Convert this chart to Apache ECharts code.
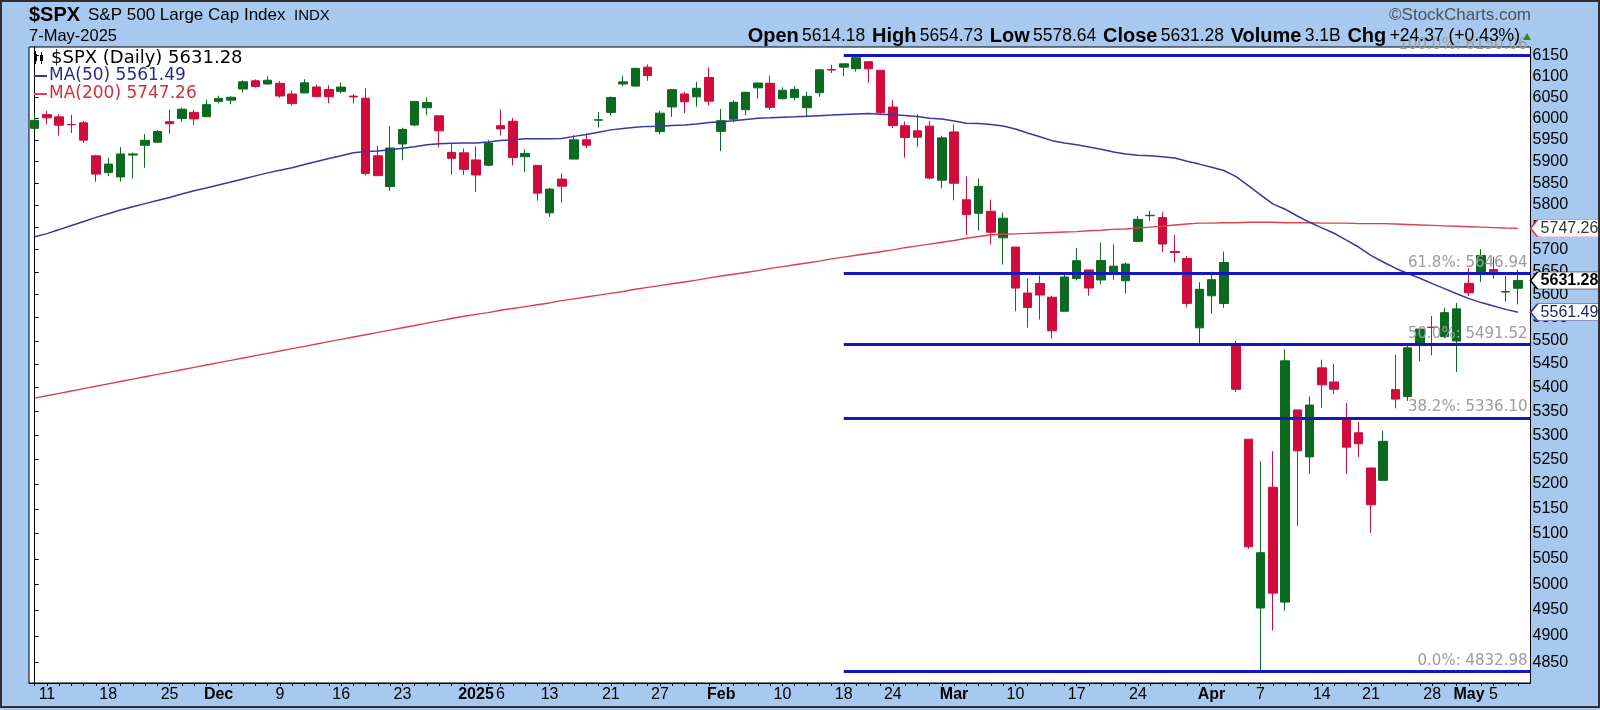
<!DOCTYPE html>
<html>
<head>
<meta charset="utf-8">
<title>$SPX S&amp;P 500 Large Cap Index</title>
<script src="https://cdn.jsdelivr.net/npm/echarts@6.0.0/dist/echarts.min.js"></script>
<style>
html, body { margin: 0; padding: 0; background: #a7c9f0; }
#chart { width: 1600px; height: 710px; }
</style>
</head>
<body>
<div id="chart"></div>
<script>
// Daily bars, 8-Nov-2024 .. 7-May-2025
const days = [
  '2024-11-08','2024-11-11','2024-11-12','2024-11-13','2024-11-14','2024-11-15','2024-11-18','2024-11-19','2024-11-20','2024-11-21',
  '2024-11-22','2024-11-25','2024-11-26','2024-11-27','2024-11-29','2024-12-02','2024-12-03','2024-12-04','2024-12-05','2024-12-06',
  '2024-12-09','2024-12-10','2024-12-11','2024-12-12','2024-12-13','2024-12-16','2024-12-17','2024-12-18','2024-12-19','2024-12-20',
  '2024-12-23','2024-12-24','2024-12-26','2024-12-27','2024-12-30','2024-12-31','2025-01-02','2025-01-03','2025-01-06','2025-01-07',
  '2025-01-08','2025-01-10','2025-01-13','2025-01-14','2025-01-15','2025-01-16','2025-01-17','2025-01-21','2025-01-22','2025-01-23',
  '2025-01-24','2025-01-27','2025-01-28','2025-01-29','2025-01-30','2025-01-31','2025-02-03','2025-02-04','2025-02-05','2025-02-06',
  '2025-02-07','2025-02-10','2025-02-11','2025-02-12','2025-02-13','2025-02-14','2025-02-18','2025-02-19','2025-02-20','2025-02-21',
  '2025-02-24','2025-02-25','2025-02-26','2025-02-27','2025-02-28','2025-03-03','2025-03-04','2025-03-05','2025-03-06','2025-03-07',
  '2025-03-10','2025-03-11','2025-03-12','2025-03-13','2025-03-14','2025-03-17','2025-03-18','2025-03-19','2025-03-20','2025-03-21',
  '2025-03-24','2025-03-25','2025-03-26','2025-03-27','2025-03-28','2025-03-31','2025-04-01','2025-04-02','2025-04-03','2025-04-04',
  '2025-04-07','2025-04-08','2025-04-09','2025-04-10','2025-04-11','2025-04-14','2025-04-15','2025-04-16','2025-04-17','2025-04-21',
  '2025-04-22','2025-04-23','2025-04-24','2025-04-25','2025-04-28','2025-04-29','2025-04-30','2025-05-01','2025-05-02','2025-05-05',
  '2025-05-06','2025-05-07'
];

const opens = [
  5976.76, 6008.86, 6003.60, 5985.75, 5989.68, 5912.79, 5874.17, 5864.14, 5914.50, 5937.20,
  5944.36, 5992.28, 6000.03, 6014.11, 6003.98, 6040.11, 6042.97, 6069.39, 6089.03, 6081.38,
  6083.01, 6057.59, 6060.15, 6074.29, 6068.17, 6063.79, 6052.55, 6047.65, 5912.71, 5842.00,
  5940.25, 5984.63, 6024.97, 6006.17, 5920.67, 5919.74, 5903.26, 5891.07, 5982.81, 5993.26,
  5910.66, 5890.66, 5782.26, 5859.17, 5905.19, 5950.00, 5995.86, 6014.12, 6081.39, 6076.32,
  6121.43, 5969.04, 6026.97, 6057.70, 6050.75, 6096.79, 5969.65, 5998.14, 6020.45, 6072.22,
  6083.13, 6046.40, 6049.32, 6025.08, 6060.59, 6115.52, 6121.60, 6117.76, 6134.50, 6114.10,
  6026.69, 5982.73, 5970.87, 5981.88, 5856.74, 5968.33, 5811.98, 5781.37, 5785.87, 5726.01,
  5705.37, 5603.65, 5624.84, 5594.45, 5563.85, 5635.60, 5654.53, 5632.37, 5646.92, 5630.73,
  5718.08, 5775.86, 5771.66, 5695.64, 5679.97, 5527.91, 5597.53, 5580.76, 5492.74, 5292.14,
  4953.79, 5193.57, 4965.28, 5353.15, 5255.56, 5441.96, 5411.99, 5335.75, 5305.45, 5232.94,
  5207.67, 5395.92, 5381.38, 5489.73, 5529.22, 5508.87, 5499.44, 5625.14, 5645.65, 5655.32,
  5605.88, 5614.18
];

const highs = [
  6012.45, 6017.31, 6009.92, 6008.19, 5993.88, 5915.22, 5908.12, 5932.73, 5920.67, 5963.44,
  5972.90, 6020.75, 6025.42, 6020.16, 6044.17, 6053.58, 6052.07, 6089.84, 6092.39, 6099.97,
  6088.51, 6065.40, 6092.59, 6079.68, 6078.58, 6085.19, 6057.68, 6070.67, 5935.52, 5982.06,
  5978.25, 6040.10, 6049.75, 6006.17, 5940.79, 5929.74, 5935.09, 5949.34, 6021.04, 6000.68,
  5927.89, 5890.66, 5838.81, 5871.92, 5960.61, 5964.69, 6014.96, 6051.51, 6100.81, 6118.73,
  6128.18, 6017.17, 6069.05, 6062.83, 6086.64, 6120.91, 6022.13, 6042.48, 6062.86, 6084.03,
  6101.28, 6073.38, 6076.28, 6063.00, 6116.91, 6127.47, 6129.63, 6150.06, 6134.50, 6114.82,
  6043.65, 5992.65, 6009.82, 5993.69, 5959.40, 5986.09, 5865.08, 5860.59, 5812.08, 5783.01,
  5705.37, 5636.30, 5642.19, 5597.78, 5645.27, 5703.52, 5654.53, 5715.33, 5711.15, 5670.84,
  5775.14, 5786.95, 5783.62, 5732.28, 5685.89, 5627.56, 5650.57, 5695.31, 5499.53, 5292.14,
  5246.57, 5267.47, 5481.34, 5353.15, 5381.46, 5459.46, 5450.41, 5367.24, 5328.31, 5232.94,
  5309.60, 5469.69, 5489.40, 5528.11, 5553.66, 5571.95, 5581.84, 5658.91, 5700.70, 5683.96,
  5641.00, 5654.73
];

const lows = [
  5976.76, 5986.69, 5960.08, 5965.91, 5942.28, 5853.01, 5865.95, 5853.52, 5860.55, 5885.10,
  5944.36, 5963.91, 5992.27, 5984.87, 6003.98, 6035.33, 6033.39, 6061.06, 6072.66, 6079.98,
  6048.63, 6029.89, 6060.15, 6051.25, 6035.77, 6059.14, 6035.19, 5867.79, 5866.07, 5832.30,
  5902.57, 5981.44, 6007.37, 5932.95, 5869.16, 5868.86, 5829.53, 5888.66, 5960.01, 5890.68,
  5874.78, 5809.87, 5773.31, 5805.45, 5905.19, 5930.50, 5978.44, 6006.88, 6076.13, 6074.67,
  6088.74, 5962.92, 6003.74, 6012.96, 6027.46, 6030.93, 5923.93, 5990.87, 6007.06, 6046.83,
  6019.96, 6044.84, 6042.34, 6003.00, 6051.01, 6107.62, 6099.51, 6111.15, 6084.59, 6008.56,
  5977.43, 5908.49, 5932.69, 5858.78, 5837.66, 5810.91, 5732.59, 5742.35, 5711.64, 5666.29,
  5564.02, 5528.41, 5546.09, 5504.65, 5563.85, 5631.12, 5597.76, 5622.20, 5632.84, 5603.10,
  5718.08, 5764.38, 5694.41, 5670.94, 5572.42, 5488.73, 5558.52, 5571.48, 5390.83, 5069.90,
  4832.98, 4910.42, 4948.43, 5115.27, 5220.77, 5358.02, 5386.44, 5220.79, 5255.58, 5101.63,
  5207.67, 5356.21, 5371.96, 5455.86, 5468.64, 5505.70, 5433.24, 5597.35, 5628.05, 5635.29,
  5585.00, 5578.64
];

const closes = [
  5995.54, 6001.35, 5983.99, 5985.38, 5949.17, 5870.62, 5893.62, 5916.98, 5917.11, 5948.71,
  5969.34, 5987.37, 6021.63, 5998.74, 6032.38, 6047.15, 6049.88, 6086.49, 6075.11, 6090.27,
  6052.85, 6034.91, 6084.19, 6051.25, 6051.09, 6074.08, 6050.61, 5872.16, 5867.08, 5930.85,
  5974.07, 6040.04, 6037.59, 5970.84, 5906.94, 5881.63, 5868.55, 5942.47, 5975.38, 5909.03,
  5918.25, 5827.04, 5836.22, 5842.91, 5949.91, 5937.34, 5996.66, 6049.24, 6086.37, 6118.71,
  6101.24, 6012.28, 6067.70, 6039.31, 6071.17, 6040.53, 5994.57, 6037.88, 6061.48, 6083.57,
  6025.99, 6066.44, 6068.50, 6051.97, 6115.07, 6114.63, 6129.58, 6144.15, 6117.52, 6013.13,
  5983.25, 5955.25, 5956.06, 5861.57, 5954.50, 5849.72, 5778.15, 5842.63, 5738.52, 5770.20,
  5614.56, 5572.07, 5599.30, 5521.52, 5638.94, 5675.12, 5614.66, 5675.29, 5662.89, 5667.56,
  5767.57, 5776.65, 5712.20, 5693.31, 5580.94, 5611.85, 5633.07, 5670.97, 5396.52, 5074.08,
  5062.25, 4982.77, 5456.90, 5268.05, 5363.36, 5405.97, 5396.63, 5275.70, 5282.70, 5158.20,
  5287.76, 5375.86, 5484.77, 5525.21, 5528.75, 5560.83, 5569.06, 5604.14, 5686.67, 5650.38,
  5606.91, 5631.28
];

// 50-day simple moving average of the close
const ma50 = [
  5728.38, 5735.44, 5744.54, 5753.84, 5762.76, 5772.00, 5780.45, 5788.88, 5796.14, 5803.20,
  5810.07, 5817.15, 5824.90, 5832.51, 5838.88, 5845.77, 5852.40, 5859.47, 5866.53, 5873.42,
  5879.72, 5885.17, 5892.68, 5899.51, 5906.53, 5912.99, 5920.09, 5922.51, 5924.01, 5927.02,
  5930.20, 5933.81, 5938.25, 5940.82, 5942.13, 5942.47, 5942.76, 5944.59, 5948.15, 5950.13,
  5952.33, 5952.40, 5952.47, 5953.05, 5957.94, 5962.11, 5967.79, 5973.12, 5976.27, 5979.18,
  5981.30, 5981.51, 5983.19, 5984.27, 5986.71, 5990.11, 5992.12, 5994.54, 5997.43, 6000.13,
  6001.26, 6002.84, 6003.78, 6004.84, 6006.50, 6007.85, 6009.44, 6010.59, 6011.44, 6009.90,
  6008.51, 6006.91, 6004.35, 6000.56, 5998.63, 5994.14, 5988.69, 5988.10, 5985.53, 5982.32,
  5975.12, 5965.77, 5957.00, 5948.01, 5942.65, 5938.52, 5933.45, 5928.10, 5921.85, 5917.02,
  5914.01, 5913.00, 5910.52, 5907.53, 5900.15, 5893.64, 5886.37, 5878.80, 5865.01, 5844.11,
  5823.33, 5802.74, 5790.53, 5775.10, 5760.95, 5748.25, 5736.30, 5721.05, 5705.48, 5686.97,
  5672.20, 5658.39, 5646.72, 5636.18, 5624.46, 5613.38, 5602.17, 5591.37, 5582.75, 5575.50,
  5567.97, 5561.49
];

// 200-day simple moving average of the close
const ma200 = [
  5378, 5383, 5388, 5393, 5398, 5403, 5408, 5413, 5418, 5423,
  5428, 5433, 5438, 5443, 5448, 5453, 5458, 5463, 5468, 5473,
  5478, 5483, 5488, 5493, 5498, 5503, 5508, 5513, 5518, 5523,
  5528, 5533, 5538, 5543, 5548, 5553, 5557, 5561, 5566, 5570,
  5574, 5578, 5582, 5587, 5591, 5595, 5599, 5603, 5607, 5612,
  5616, 5620, 5624, 5628, 5632, 5637, 5641, 5645, 5649, 5653,
  5658, 5662, 5666, 5670, 5674, 5679, 5683, 5687, 5691, 5695,
  5699, 5704, 5708, 5712, 5716, 5720, 5725, 5729, 5733, 5734,
  5735, 5736, 5737, 5738, 5739, 5740, 5742, 5743, 5745, 5746,
  5748, 5750, 5752, 5755, 5757, 5759, 5759, 5760, 5760, 5761,
  5761, 5761, 5760, 5760, 5760, 5759, 5759, 5759, 5758, 5758,
  5758, 5757, 5756, 5755, 5754, 5753, 5752, 5751, 5750, 5749,
  5748, 5747.26
];

// date axis labels
const tickDates = [
  '2024-11-11','2024-11-18','2024-11-25','2024-12-02','2024-12-09','2024-12-16','2024-12-23',
  '2025-01-02','2025-01-06','2025-01-13','2025-01-21','2025-01-27','2025-02-03','2025-02-10',
  '2025-02-18','2025-02-24','2025-03-03','2025-03-10','2025-03-17','2025-03-24','2025-04-01',
  '2025-04-07','2025-04-14','2025-04-21','2025-04-28','2025-05-01','2025-05-05'
];
const tickTexts = [
  '11','18','25','Dec','9','16','23',
  '2025','6','13','21','27','Feb','10',
  '18','24','Mar','10','17','24','Apr',
  '7','14','21','28','May','5'
];

// price axis labels
const priceTicks = [
  4850, 4900, 4950, 5000, 5050, 5100, 5150, 5200, 5250, 5300, 5350, 5400, 5450, 5500,
  5550, 5600, 5650, 5700, 5750, 5800, 5850, 5900, 5950, 6000, 6050, 6100, 6150
];

// Fibonacci retracement from the 19-Feb high to the 7-Apr low
const fibPercents = ['100.0%', '61.8%', '50.0%', '38.2%', '0.0%'];
const fibValues = [6150.06, 5646.94, 5491.52, 5336.10, 4832.98];
const fibStartDate = '2025-02-18';

// quote summary for the last bar
const quoteLabels = ['Open', 'High', 'Low', 'Close', 'Volume', 'Chg'];
const quoteValues = ['5614.18', '5654.73', '5578.64', '5631.28', '3.1B', '+24.37 (+0.43%)'];

// ---------------------------------------------------------------------------
const UP = '#0b6a1f';
const DOWN = '#d20b3d';
const FIB = '#1515c4';
const MA50_COLOR = '#37379c';
const MA200_COLOR = '#d8424f';
const SANS = '"Liberation Sans", Arial, sans-serif';
const VERA = '"DejaVu Sans", Verdana, sans-serif';

const X_MIN = -0.465;
const X_MAX = 122.02;
const Y_MIN = 4810.6;
const Y_MAX = 6170;

const lastIdx = days.length - 1;
const candleData = days.map((d, i) => [i, opens[i], closes[i], lows[i], highs[i]]);
const ma50Data = ma50.map((v, i) => [i, v]);
const ma200Data = ma200.map((v, i) => [i, v]);
const tickIndex = tickDates.map(d => days.indexOf(d));
const tickTextByIndex = {};
tickIndex.forEach((ix, k) => { tickTextByIndex[ix] = tickTexts[k]; });
const allDayIndex = days.map((d, i) => i);

const fibStart = days.indexOf(fibStartDate);
const fibLines = fibValues.map((v, k) => [
  { coord: [fibStart, v], label: { formatter: fibPercents[k] + ': ' + v.toFixed(2) } },
  { coord: [X_MAX, v] }
]);

function priceTag(value, border, textColor, bold) {
  return {
    silent: true,
    symbol: 'path://M0,8 L7,0 L72,0 L72,16 L7,16 Z',
    symbolSize: [72, 17],
    symbolOffset: [36, 0],
    symbolKeepAspect: false,
    itemStyle: { color: '#ffffff', borderColor: border, borderWidth: 1 },
    label: {
      show: true, position: 'inside', offset: [3, 0],
      formatter: value.toFixed(2), color: textColor,
      fontSize: 16, fontWeight: bold ? 'bold' : 'normal', fontFamily: SANS
    },
    emphasis: { disabled: true },
    data: [{ coord: [X_MAX, value], value: value }]
  };
}

const quoteRich = quoteLabels.map((l, k) => '{l|' + l + '} {v|' + quoteValues[k] + '}').join('  ');

const chart = echarts.init(document.getElementById('chart'));

chart.setOption({
  backgroundColor: '#a7c9f0',
  animation: false,
  grid: {
    left: 29, right: 69.5, top: 47, bottom: 27,
    show: true, backgroundColor: '#ffffff', borderColor: '#000000', borderWidth: 1
  },
  xAxis: {
    type: 'value', min: X_MIN, max: X_MAX,
    axisLine: { show: true, lineStyle: { color: '#000', width: 1 } },
    axisTick: { show: true, customValues: allDayIndex, length: 3, lineStyle: { color: '#000' } },
    axisLabel: {
      customValues: tickIndex, margin: 4, fontSize: 16, color: '#000', fontFamily: SANS,
      formatter: v => {
        const t = tickTextByIndex[Math.round(v)] || '';
        return /^\d{1,2}$/.test(t) ? t : '{b|' + t + '}';
      },
      rich: { b: { fontWeight: 'bold', fontSize: 16, color: '#000', fontFamily: SANS } }
    },
    splitLine: { show: false }
  },
  yAxis: {
    type: 'log', logBase: 10, min: Y_MIN, max: Y_MAX, position: 'right',
    axisLine: { show: true, lineStyle: { color: '#000', width: 1 } },
    axisTick: { show: true, customValues: priceTicks, length: 4, lineStyle: { color: '#000' } },
    axisLabel: {
      customValues: priceTicks, margin: 2, fontSize: 16, color: '#000', fontFamily: SANS,
      formatter: v => String(Math.round(v))
    },
    splitLine: { show: false }
  },
  series: [
    {
      name: 'Fibonacci', type: 'line', data: [], z: 1, clip: false, silent: true,
      markLine: {
        silent: true, symbol: ['none', 'none'], animation: false,
        lineStyle: { color: FIB, width: 3, type: 'solid' },
        label: {
          show: true, position: 'insideEndTop', distance: 3,
          color: '#9c9c9c', fontSize: 15, fontFamily: VERA
        },
        emphasis: { disabled: true },
        data: fibLines
      }
    },
    {
      name: '$SPX', type: 'candlestick', data: candleData, z: 2, silent: true,
      encode: { x: 0, y: [1, 2, 3, 4] },
      barWidth: 9,
      itemStyle: { color: UP, color0: DOWN, borderColor: UP, borderColor0: DOWN, borderWidth: 1 },
      markPoint: priceTag(closes[lastIdx], '#000000', '#000000', true)
    },
    {
      name: 'MA(200)', type: 'line', data: ma200Data, z: 3, silent: true,
      showSymbol: false, symbol: 'none',
      lineStyle: { color: MA200_COLOR, width: 1.4 },
      markPoint: priceTag(ma200[lastIdx], MA200_COLOR, '#333333', false)
    },
    {
      name: 'MA(50)', type: 'line', data: ma50Data, z: 3, silent: true,
      showSymbol: false, symbol: 'none',
      lineStyle: { color: MA50_COLOR, width: 1.5 },
      markPoint: priceTag(ma50[lastIdx], MA50_COLOR, '#1c1c70', false)
    }
  ],
  graphic: [
    // outer frame
    { type: 'rect', silent: true, z: 100, shape: { x: 1, y: 1, width: 1598, height: 706 },
      style: { fill: 'none', stroke: '#2e2e2e', lineWidth: 2 } },
    // title block
    { type: 'text', z: 100, x: 29, y: 15, style: { text: '$SPX', font: 'bold 20px ' + SANS, fill: '#000', verticalAlign: 'middle' } },
    { type: 'text', z: 100, x: 88, y: 15, style: { text: 'S&P 500 Large Cap Index', font: '17px ' + SANS, fill: '#000', verticalAlign: 'middle' } },
    { type: 'text', z: 100, x: 294, y: 16, style: { text: 'INDX', font: '15px ' + SANS, fill: '#000', verticalAlign: 'middle' } },
    { type: 'text', z: 100, x: 29, y: 36, style: { text: '7-May-2025', font: '16.5px ' + SANS, fill: '#000', verticalAlign: 'middle' } },
    { type: 'text', z: 100, x: 1531, y: 15, style: { text: '\u00a9StockCharts.com', font: '17px ' + SANS, fill: '#505050', align: 'right', verticalAlign: 'middle' } },
    { type: 'text', z: 100, x: 1520, y: 36, style: {
        text: quoteRich, align: 'right', verticalAlign: 'middle',
        rich: {
          l: { fontWeight: 'bold', fontSize: 20, fontFamily: SANS, fill: '#000' },
          v: { fontSize: 17.5, fontFamily: SANS, fill: '#000' }
        } } },
    { type: 'polygon', z: 100, silent: true, shape: { points: [[1523, 40], [1531, 40], [1527, 33]] }, style: { fill: '#2a8a2a' } },
    // legend: price
    { type: 'rect', z: 100, silent: true, shape: { x: 34, y: 54, width: 3, height: 7 }, style: { fill: '#000' } },
    { type: 'line', z: 100, silent: true, shape: { x1: 35.5, y1: 51, x2: 35.5, y2: 64 }, style: { stroke: '#000', lineWidth: 1 } },
    { type: 'rect', z: 100, silent: true, shape: { x: 40, y: 55, width: 3, height: 6 }, style: { fill: '#000' } },
    { type: 'line', z: 100, silent: true, shape: { x1: 41.5, y1: 52, x2: 41.5, y2: 64 }, style: { stroke: '#000', lineWidth: 1 } },
    { type: 'text', z: 100, x: 51, y: 58, style: { text: '$SPX (Daily) ' + closes[lastIdx].toFixed(2), font: '18px ' + VERA, fill: '#000', verticalAlign: 'middle' } },
    // legend: moving averages
    { type: 'line', z: 100, silent: true, shape: { x1: 34, y1: 76, x2: 47, y2: 76 }, style: { stroke: MA50_COLOR, lineWidth: 2 } },
    { type: 'text', z: 100, x: 49, y: 76, style: { text: 'MA(50) ' + ma50[lastIdx].toFixed(2), font: '17px ' + VERA, fill: '#2a2a8c', verticalAlign: 'middle' } },
    { type: 'line', z: 100, silent: true, shape: { x1: 34, y1: 94, x2: 47, y2: 94 }, style: { stroke: MA200_COLOR, lineWidth: 2 } },
    { type: 'text', z: 100, x: 49, y: 94, style: { text: 'MA(200) ' + ma200[lastIdx].toFixed(2), font: '17px ' + VERA, fill: '#d0303f', verticalAlign: 'middle' } }
  ]
});
</script>
</body>
</html>
